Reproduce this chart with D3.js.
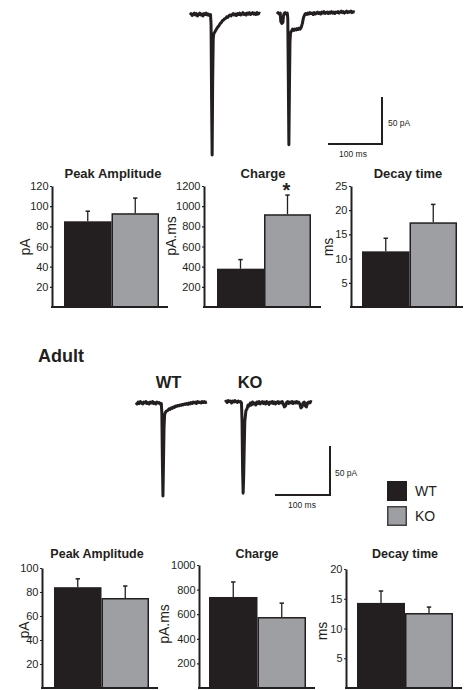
<!DOCTYPE html>
<html><head><meta charset="utf-8">
<script src="https://cdn.jsdelivr.net/npm/d3@7"></script>
<style>
body{margin:0;background:#fff}
svg{display:block}
text{font-family:"Liberation Sans",Arial,Helvetica,sans-serif;fill:#231f20}
</style>
</head><body>
<svg id="c" width="464" height="690"></svg>
<script>
// ---------------- DATA ----------------
const groups = ["WT", "KO"];
const measureTitles = ["Peak Amplitude", "Charge", "Decay time"];
const measureUnits = ["pA", "pA.ms", "ms"];

// Juvenile (top) panels
const juvPeakMean = [85, 93],   juvPeakErr = [10, 15];
const juvChargeMean = [380, 920], juvChargeErr = [90, 190];
const juvDecayMean = [11.5, 17.5], juvDecayErr = [2.7, 3.7];
const juvPeakTicks = [20, 40, 60, 80, 100, 120];
const juvChargeTicks = [200, 400, 600, 800, 1000, 1200];
const juvDecayTicks = [5, 10, 15, 20, 25];
const juvPeakSig = ["", ""], juvChargeSig = ["", "*"], juvDecaySig = ["", ""];

// Adult (bottom) panels
const adultPeakMean = [84, 75],   adultPeakErr = [7, 10];
const adultChargeMean = [740, 577], adultChargeErr = [122, 113];
const adultDecayMean = [14.3, 12.6], adultDecayErr = [2.0, 1.0];
const adultPeakTicks = [20, 40, 60, 80, 100];
const adultChargeTicks = [200, 400, 600, 800, 1000];
const adultDecayTicks = [5, 10, 15, 20];

// Scale bars
const scaleBarMs = 100, scaleBarPa = 50;

// Example traces: [time (ms), current (pA)]
const juvTraceWT = [[0,0],[2,1.5],[4,-0.5],[6,1],[8,2],[10,0],[12,1.5],[14,-1],[16,0.5],[18,2],[20,0],[22,1],[24,-1],[26,1.5],[28,0.5],[30,2],[32,0],[34,1],[36,-0.5],[38,0.5],[39,-10],[40,-90],[41,-149],[42,-70],[43,-25],[44,-20],[46,-18],[48,-16],[50,-14],[52,-12.5],[54,-11],[56,-9],[58,-8],[60,-6],[62,-5.5],[64,-4],[66,-3.5],[68,-2],[70,-2.5],[72,-1],[74,0],[76,-1],[78,0.5],[80,1.5],[82,0],[84,1],[86,-0.5],[88,1.5],[90,0.5],[92,2],[94,0],[96,1],[98,2.5],[100,0.5],[102,1.5],[104,0],[106,2],[108,1],[110,2.5],[112,0.5],[114,1.5],[116,2.5],[118,1],[120,2],[122,0.5],[124,2.5],[126,1],[128,2],[130,1.5]];
const juvTraceKO = [[0,0],[2,1.5],[4,0],[6,1],[7,-8],[9,-10],[11,-9],[12,-2],[13,0.5],[15,1.5],[17,0],[19,1],[20,-5],[21,-70],[22,-139],[23,-80],[24,-30],[25,-20],[27,-18],[29,-16],[31,-17.5],[33,-16],[35,-17],[37,-15.5],[39,-16.5],[41,-15],[43,-16],[45,-14],[47,-10],[49,-4],[51,-1],[53,0.5],[55,-0.5],[57,1],[59,0],[61,1.5],[63,0.5],[65,1],[67,-0.5],[69,1.5],[71,0],[73,1],[75,2],[77,0.5],[79,1.5],[81,0],[83,2],[85,1],[87,2.5],[89,0.5],[91,1.5],[93,2],[95,0.5],[97,2],[99,1],[101,2.5],[103,1],[105,2],[107,0.5],[109,2],[111,1.5],[113,2.5],[115,1],[117,2],[119,3],[121,1.5],[123,2.5],[125,1],[127,2],[129,3],[131,1.5],[133,2.5],[135,2],[137,3],[139,1.5],[141,2.5],[144,2]];
const adultTraceWT = [[0,0.5],[2,-1],[4,1],[6,-0.5],[8,1.5],[10,0],[12,-1],[14,1],[16,0],[18,1.5],[20,-0.5],[22,0.5],[24,-1],[26,1],[28,0],[30,1.5],[32,-0.5],[34,0.5],[36,-1],[38,1],[40,0],[42,0.5],[44,-1],[46,-0.5],[47,-10],[48,-60],[49,-95],[50,-60],[51,-25],[52,-12],[54,-9],[56,-8],[58,-7.5],[60,-6],[62,-6.5],[64,-5],[66,-5.5],[68,-4],[70,-4.5],[72,-3],[74,-3.5],[76,-2.5],[78,-3],[80,-2],[82,-2.5],[84,-1.5],[86,-2],[88,-1],[90,-1.5],[92,-0.5],[94,-1.5],[96,0],[98,-1],[100,0.5],[102,-0.5],[104,1],[106,0],[108,1],[110,-0.5],[112,1.5],[114,0.5],[116,1],[118,0],[120,1.5],[122,0.5],[124,1.5],[126,0.5],[129,1]];
const adultTraceKO = [[0,0],[2,1],[4,-0.5],[6,1.5],[8,0.5],[10,1],[12,-1],[14,1],[16,0],[18,1.5],[20,0.5],[22,-0.5],[24,1],[26,0],[28,0.5],[30,-1],[31,-20],[32,-70],[33,-93],[34,-75],[35,-45],[36,-20],[38,-9],[40,-7],[42,-3],[44,-4],[46,-1],[48,-3],[50,0],[52,-2],[54,-1],[56,-3],[58,0],[60,-1.5],[62,0.5],[64,-2],[66,-0.5],[68,0.5],[70,-1.5],[72,0],[74,-2],[76,0.5],[78,-1],[80,-2.5],[82,0],[84,-1],[86,0.5],[88,-1.5],[90,0],[92,-2],[94,-0.5],[96,0.5],[98,-1.5],[100,0],[102,-1],[104,0.5],[106,-2],[108,-5],[110,-4],[112,-0.5],[114,0.5],[116,-1.5],[118,0],[120,-1],[122,0.5],[124,-1.5],[126,0],[128,-1],[130,0.5],[132,-1],[134,0],[136,-2],[138,-6],[140,-5],[142,-1],[144,0],[146,-4],[148,-5],[150,-1],[152,0],[154,-1],[156,0.5],[158,0]];

// ---------------- DRAWING ----------------
const ink = "#231f20", koFill = "#9d9fa2";
const fills = {WT: ink, KO: koFill};
const svg = d3.select("#c");

function drawTrace(data, originX, baseY, pxPerMs, pxPerPa) {
  const x = d3.scaleLinear().domain([0, 100]).range([originX, originX + 100 * pxPerMs]);
  const y = d3.scaleLinear().domain([0, -50]).range([baseY, baseY + 50 * pxPerPa]);
  svg.append("path").datum(data)
    .attr("d", d3.line().x(d => x(d[0])).y(d => y(d[1])))
    .attr("fill", "none").attr("stroke", ink)
    .attr("stroke-width", 3).attr("stroke-linejoin", "round");
}

function drawScaleBar(cx, cy, pxPerMs, pxPerPa, msLabel, paLabel) {
  const x = d3.scaleLinear().domain([0, scaleBarMs]).range([cx - scaleBarMs * pxPerMs, cx]);
  const y = d3.scaleLinear().domain([0, scaleBarPa]).range([cy, cy - scaleBarPa * pxPerPa]);
  svg.append("path")
    .attr("d", `M${x(0)},${y(0)}L${x(scaleBarMs)},${y(0)}L${x(scaleBarMs)},${y(scaleBarPa)}`)
    .attr("fill", "none").attr("stroke", ink).attr("stroke-width", 2);
  svg.append("text").attr("x", msLabel[0]).attr("y", msLabel[1])
    .attr("text-anchor", "middle").style("font-size", "8.5px").text(scaleBarMs + " ms");
  svg.append("text").attr("x", paLabel[0]).attr("y", paLabel[1])
    .attr("dominant-baseline", "central").style("font-size", "8.5px").text(scaleBarPa + " pA");
}

function drawPanel(p) {
  const x = d3.scaleBand().domain(groups).range([p.barL, p.barR]).padding(0);
  const y = d3.scaleLinear().domain([0, p.max]).range([p.y0, p.yTop]);
  const g = svg.append("g");
  const rows = groups.map((k, i) => ({k, v: p.mean[i], e: p.err[i], s: p.sig ? p.sig[i] : ""}));

  // bars
  g.selectAll("rect").data(rows).join("rect")
    .attr("x", d => x(d.k) + (d.k === "KO" ? 0.75 : 0))
    .attr("y", d => y(d.v) + (d.k === "KO" ? 0.75 : 0))
    .attr("width", d => x.bandwidth() - (d.k === "KO" ? 1.5 : 0))
    .attr("height", d => y(0) - y(d.v) - (d.k === "KO" ? 0.75 : 0))
    .attr("fill", d => fills[d.k])
    .attr("stroke", d => d.k === "KO" ? ink : "none")
    .attr("stroke-width", 1.5);

  // error bars (upper only)
  const cx = d => x(d.k) + x.bandwidth() / 2;
  g.selectAll("line.err").data(rows).join("line").attr("class", "err")
    .attr("x1", cx).attr("x2", cx)
    .attr("y1", d => y(d.v)).attr("y2", d => y(d.v + d.e))
    .attr("stroke", ink).attr("stroke-width", 1.3);
  g.selectAll("line.cap").data(rows).join("line").attr("class", "cap")
    .attr("x1", d => cx(d) - 2.2).attr("x2", d => cx(d) + 2.2)
    .attr("y1", d => y(d.v + d.e)).attr("y2", d => y(d.v + d.e))
    .attr("stroke", ink).attr("stroke-width", 1.5);

  // significance
  g.selectAll("text.sig").data(rows.filter(d => d.s)).join("text").attr("class", "sig")
    .attr("x", d => cx(d) - 1).attr("y", d => y(d.v + d.e) + 2)
    .attr("text-anchor", "middle").style("font-size", "20px").style("font-weight", "bold")
    .text(d => d.s);

  // y axis
  const ax = g.append("g").attr("transform", `translate(${p.axisX},0)`)
    .call(d3.axisLeft(y).tickValues(p.ticks).tickFormat(d3.format("d"))
      .tickSize(2).tickPadding(1.5).tickSizeOuter(0));
  ax.select(".domain").attr("stroke", ink).attr("stroke-width", 2);
  ax.selectAll(".tick line").attr("stroke", ink).attr("stroke-width", 1.2);
  ax.selectAll(".tick text").attr("fill", ink)
    .style("font-size", "11px").style("font-family", '"Liberation Sans",Arial,sans-serif');

  // x axis line
  g.append("line").attr("x1", p.axisX - 1).attr("x2", p.xEnd)
    .attr("y1", p.y0).attr("y2", p.y0).attr("stroke", ink).attr("stroke-width", 2);

  // title
  g.append("text").attr("x", p.titleX).attr("y", p.titleY).attr("text-anchor", "middle")
    .style("font-size", p.titleSize + "px").style("font-weight", "bold").text(p.title);

  // unit label
  g.append("text").attr("transform", `translate(${p.unitX},${p.unitY}) rotate(-90)`)
    .attr("text-anchor", "middle").attr("dominant-baseline", "central")
    .style("font-size", p.unitSize + "px").text(p.unit);
}

// ---- Juvenile traces ----
drawTrace(juvTraceWT, 190, 15, 0.54, 0.94);
drawTrace(juvTraceKO, 277, 14, 0.54, 0.94);
drawScaleBar(382, 144, 0.54, 0.94, [353, 157], [388, 123]);

// ---- Juvenile bars ----
const juvMeans = [juvPeakMean, juvChargeMean, juvDecayMean];
const juvErrs = [juvPeakErr, juvChargeErr, juvDecayErr];
const juvTicks = [juvPeakTicks, juvChargeTicks, juvDecayTicks];
const juvSigs = [juvPeakSig, juvChargeSig, juvDecaySig];
const juvLayout = [
  {axisX: 52,  barL: 64,  barR: 159, xEnd: 168, titleX: 113, unitX: 25,  unitY: 247},
  {axisX: 204, barL: 217, barR: 311, xEnd: 321, titleX: 263, unitX: 171, unitY: 236},
  {axisX: 351, barL: 362, barR: 457, xEnd: 463, titleX: 408, unitX: 328, unitY: 247}
];
juvLayout.forEach((L, i) => drawPanel(Object.assign({}, L, {
  mean: juvMeans[i], err: juvErrs[i], ticks: juvTicks[i], max: d3.max(juvTicks[i]),
  y0: 307, yTop: 186, titleY: 178, titleSize: 13, title: measureTitles[i],
  unit: measureUnits[i], unitSize: 14, sig: juvSigs[i]
})));

// ---- Adult section ----
svg.append("text").attr("x", 38).attr("y", 362).style("font-size", "18px")
  .style("font-weight", "bold").text("Adult");
svg.append("text").attr("x", 168.5).attr("y", 388).attr("text-anchor", "middle")
  .style("font-size", "16.5px").style("font-weight", "bold").text(groups[0]);
svg.append("text").attr("x", 250).attr("y", 388).attr("text-anchor", "middle")
  .style("font-size", "16.5px").style("font-weight", "bold").text(groups[1]);

drawTrace(adultTraceWT, 136, 403, 0.55, 0.98);
drawTrace(adultTraceKO, 225, 402, 0.55, 0.98);
drawScaleBar(330, 495, 0.55, 0.98, [302, 508], [335, 473]);

// legend
const legY = [481, 506];
groups.forEach((k, i) => {
  svg.append("rect").attr("x", 387.75).attr("y", legY[i] + 0.75).attr("width", 18.5).attr("height", 18.5)
    .attr("fill", fills[k]).attr("stroke", k === "KO" ? "#414042" : ink).attr("stroke-width", 1.5);
  svg.append("text").attr("x", 415).attr("y", legY[i] + 10).attr("dominant-baseline", "central")
    .style("font-size", "14px").text(k);
});

// ---- Adult bars ----
const adultMeans = [adultPeakMean, adultChargeMean, adultDecayMean];
const adultErrs = [adultPeakErr, adultChargeErr, adultDecayErr];
const adultTicks = [adultPeakTicks, adultChargeTicks, adultDecayTicks];
const adultLayout = [
  {axisX: 42,  barL: 54,  barR: 149, xEnd: 158, titleX: 97,  unitX: 24,  unitY: 630, yTop: 568},
  {axisX: 199, barL: 209, barR: 306, xEnd: 315, titleX: 257, unitX: 164, unitY: 624, yTop: 565},
  {axisX: 346, barL: 357, barR: 453, xEnd: 462, titleX: 405, unitX: 322, unitY: 631, yTop: 569}
];
adultLayout.forEach((L, i) => drawPanel(Object.assign({}, L, {
  mean: adultMeans[i], err: adultErrs[i], ticks: adultTicks[i], max: d3.max(adultTicks[i]),
  y0: 688, titleY: 558, titleSize: 12.5, title: measureTitles[i],
  unit: measureUnits[i], unitSize: 14, sig: null
})));
</script>
</body></html>
